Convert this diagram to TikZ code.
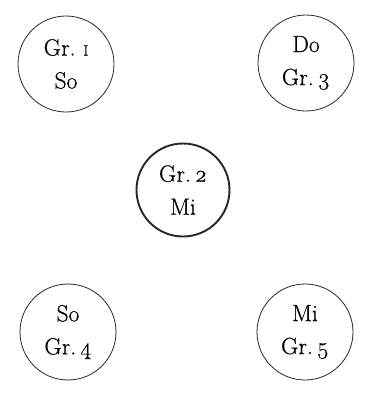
\documentclass[tikz,border=0pt]{standalone}
\usepackage{fontspec}
\setmainfont{Latin Modern Roman}[FakeBold=0.5]
\newcommand{\grnum}[1]{\oldstylenums{#1}}
\newcommand{\grone}{{\fontsize{15}{15}\selectfont I}}
\begin{document}
\begin{tikzpicture}[x=1pt,y=-1pt,
  grp/.style={circle,draw=black!85,line width=0.8pt,minimum size=96pt,inner sep=0pt,
    align=center,font=\fontsize{23.5}{33}\selectfont},
  grpmain/.style={grp,line width=1.9pt,minimum size=93pt}]
\useasboundingbox (0,0) rectangle (367,397);
\node[grp] (g1) at (66,64) {G\kern0.5pt r.\,\,\grone\\So};
\node[grp] (g3) at (306,63) {Do\\G\kern0.5pt r.\,\grnum{3}};
\node[grpmain] (g2) at (183,190) {G\kern0.5pt r.\,\grnum{2}\\Mi};
\node[grp] (g4) at (68,332) {So\\G\kern0.5pt r.\,\grnum{4}};
\node[grp] (g5) at (305,332) {Mi\\G\kern0.5pt r.\,\grnum{5}};
\end{tikzpicture}
\end{document}
